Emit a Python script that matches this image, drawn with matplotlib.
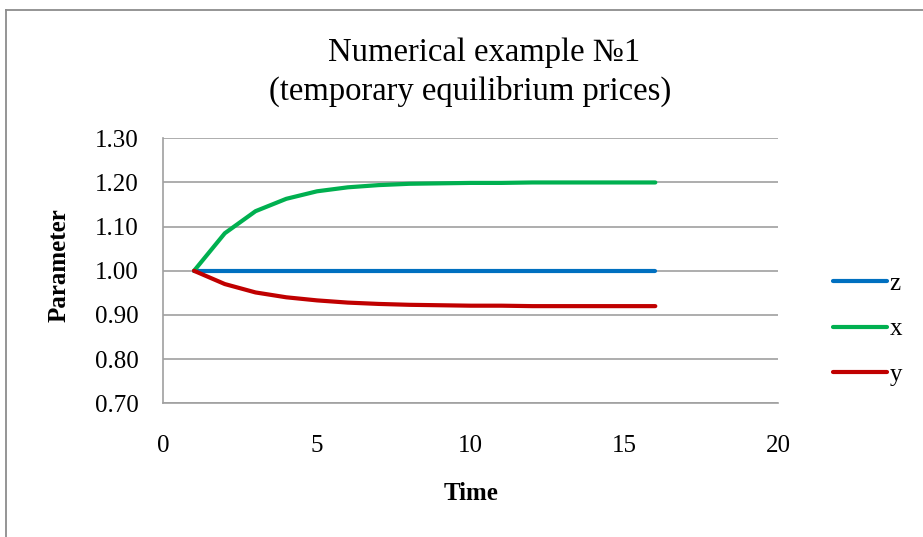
import numpy as np
import matplotlib
matplotlib.use("Agg")
import matplotlib.pyplot as plt
from matplotlib.lines import Line2D

# time steps and the three price paths
time = np.arange(1, 17)
z = [1.00] * 16
x = [1.000, 1.085, 1.135, 1.163, 1.180, 1.189, 1.194, 1.197,
     1.198, 1.199, 1.199, 1.200, 1.200, 1.200, 1.200, 1.200]
y = [1.000, 0.970, 0.951, 0.940, 0.933, 0.928, 0.925, 0.923,
     0.922, 0.921, 0.921, 0.920, 0.920, 0.920, 0.920, 0.920]

y_ticks = [0.70, 0.80, 0.90, 1.00, 1.10, 1.20, 1.30]
x_ticks = [0, 5, 10, 15, 20]

plt.rcParams['font.family'] = ['Liberation Serif', 'DejaVu Serif']

W, H = 923, 537
fig = plt.figure(figsize=(W / 100, H / 100), dpi=100)
ax = fig.add_axes([163.3 / W, 1 - 403.3 / H, (778.3 - 163.3) / W, (403.3 - 138.3) / H])

# outer chart border (cut at right and bottom)
fig.add_artist(Line2D([5.5 / W, 5.5 / W], [0, 1 - 10 / H], transform=fig.transFigure,
                      color='#8c8c8c', lw=1.3))
fig.add_artist(Line2D([5.5 / W, 1], [1 - 10 / H, 1 - 10 / H], transform=fig.transFigure,
                      color='#8c8c8c', lw=1.3))

lw = 3.0
ax.plot(time, z, color='#0070C0', lw=lw, solid_capstyle='round', label='z', zorder=3)
ax.plot(time, x, color='#00B050', lw=lw, solid_capstyle='round', label='x', zorder=3)
ax.plot(time, y, color='#C00000', lw=lw, solid_capstyle='round', label='y', zorder=3)

ax.set_xlim(0, 20)
ax.set_ylim(0.70, 1.30)
ax.set_yticks(y_ticks)
ax.set_yticklabels([f'{v:.2f}' for v in y_ticks])
ax.set_xticks(x_ticks)
ax.tick_params(length=0, labelsize=18)
ax.tick_params(axis='y', pad=18)
ax.tick_params(axis='x', pad=23)
ax.grid(axis='y', color='#a0a0a0', lw=1.2)
ax.set_axisbelow(True)
for s in ['top', 'right']:
    ax.spines[s].set_visible(False)
for s in ['left', 'bottom']:
    ax.spines[s].set_color('#a0a0a0')
    ax.spines[s].set_linewidth(1.2)

fig.text(59 / W, 1 - 265 / H, 'Parameter', rotation=90, ha='center', va='center',
         fontsize=18, fontweight='bold')
fig.text(471 / W, 1 - 494 / H, 'Time', ha='center', va='center',
         fontsize=18, fontweight='bold')
fig.text(484 / W, 1 - 53 / H, 'Numerical example №1', ha='center', va='center', fontsize=23.5)
fig.text(470 / W, 1 - 91 / H, '(temporary equilibrium prices)', ha='center', va='center', fontsize=23.5)

ax.legend(loc='upper left', bbox_to_anchor=(833 / W, 1 - 272 / H), bbox_transform=fig.transFigure,
          frameon=False, fontsize=18, handlelength=2.15, handletextpad=0.12,
          labelspacing=0.93, borderaxespad=0, borderpad=0)

fig.savefig('out.png', dpi=100)
